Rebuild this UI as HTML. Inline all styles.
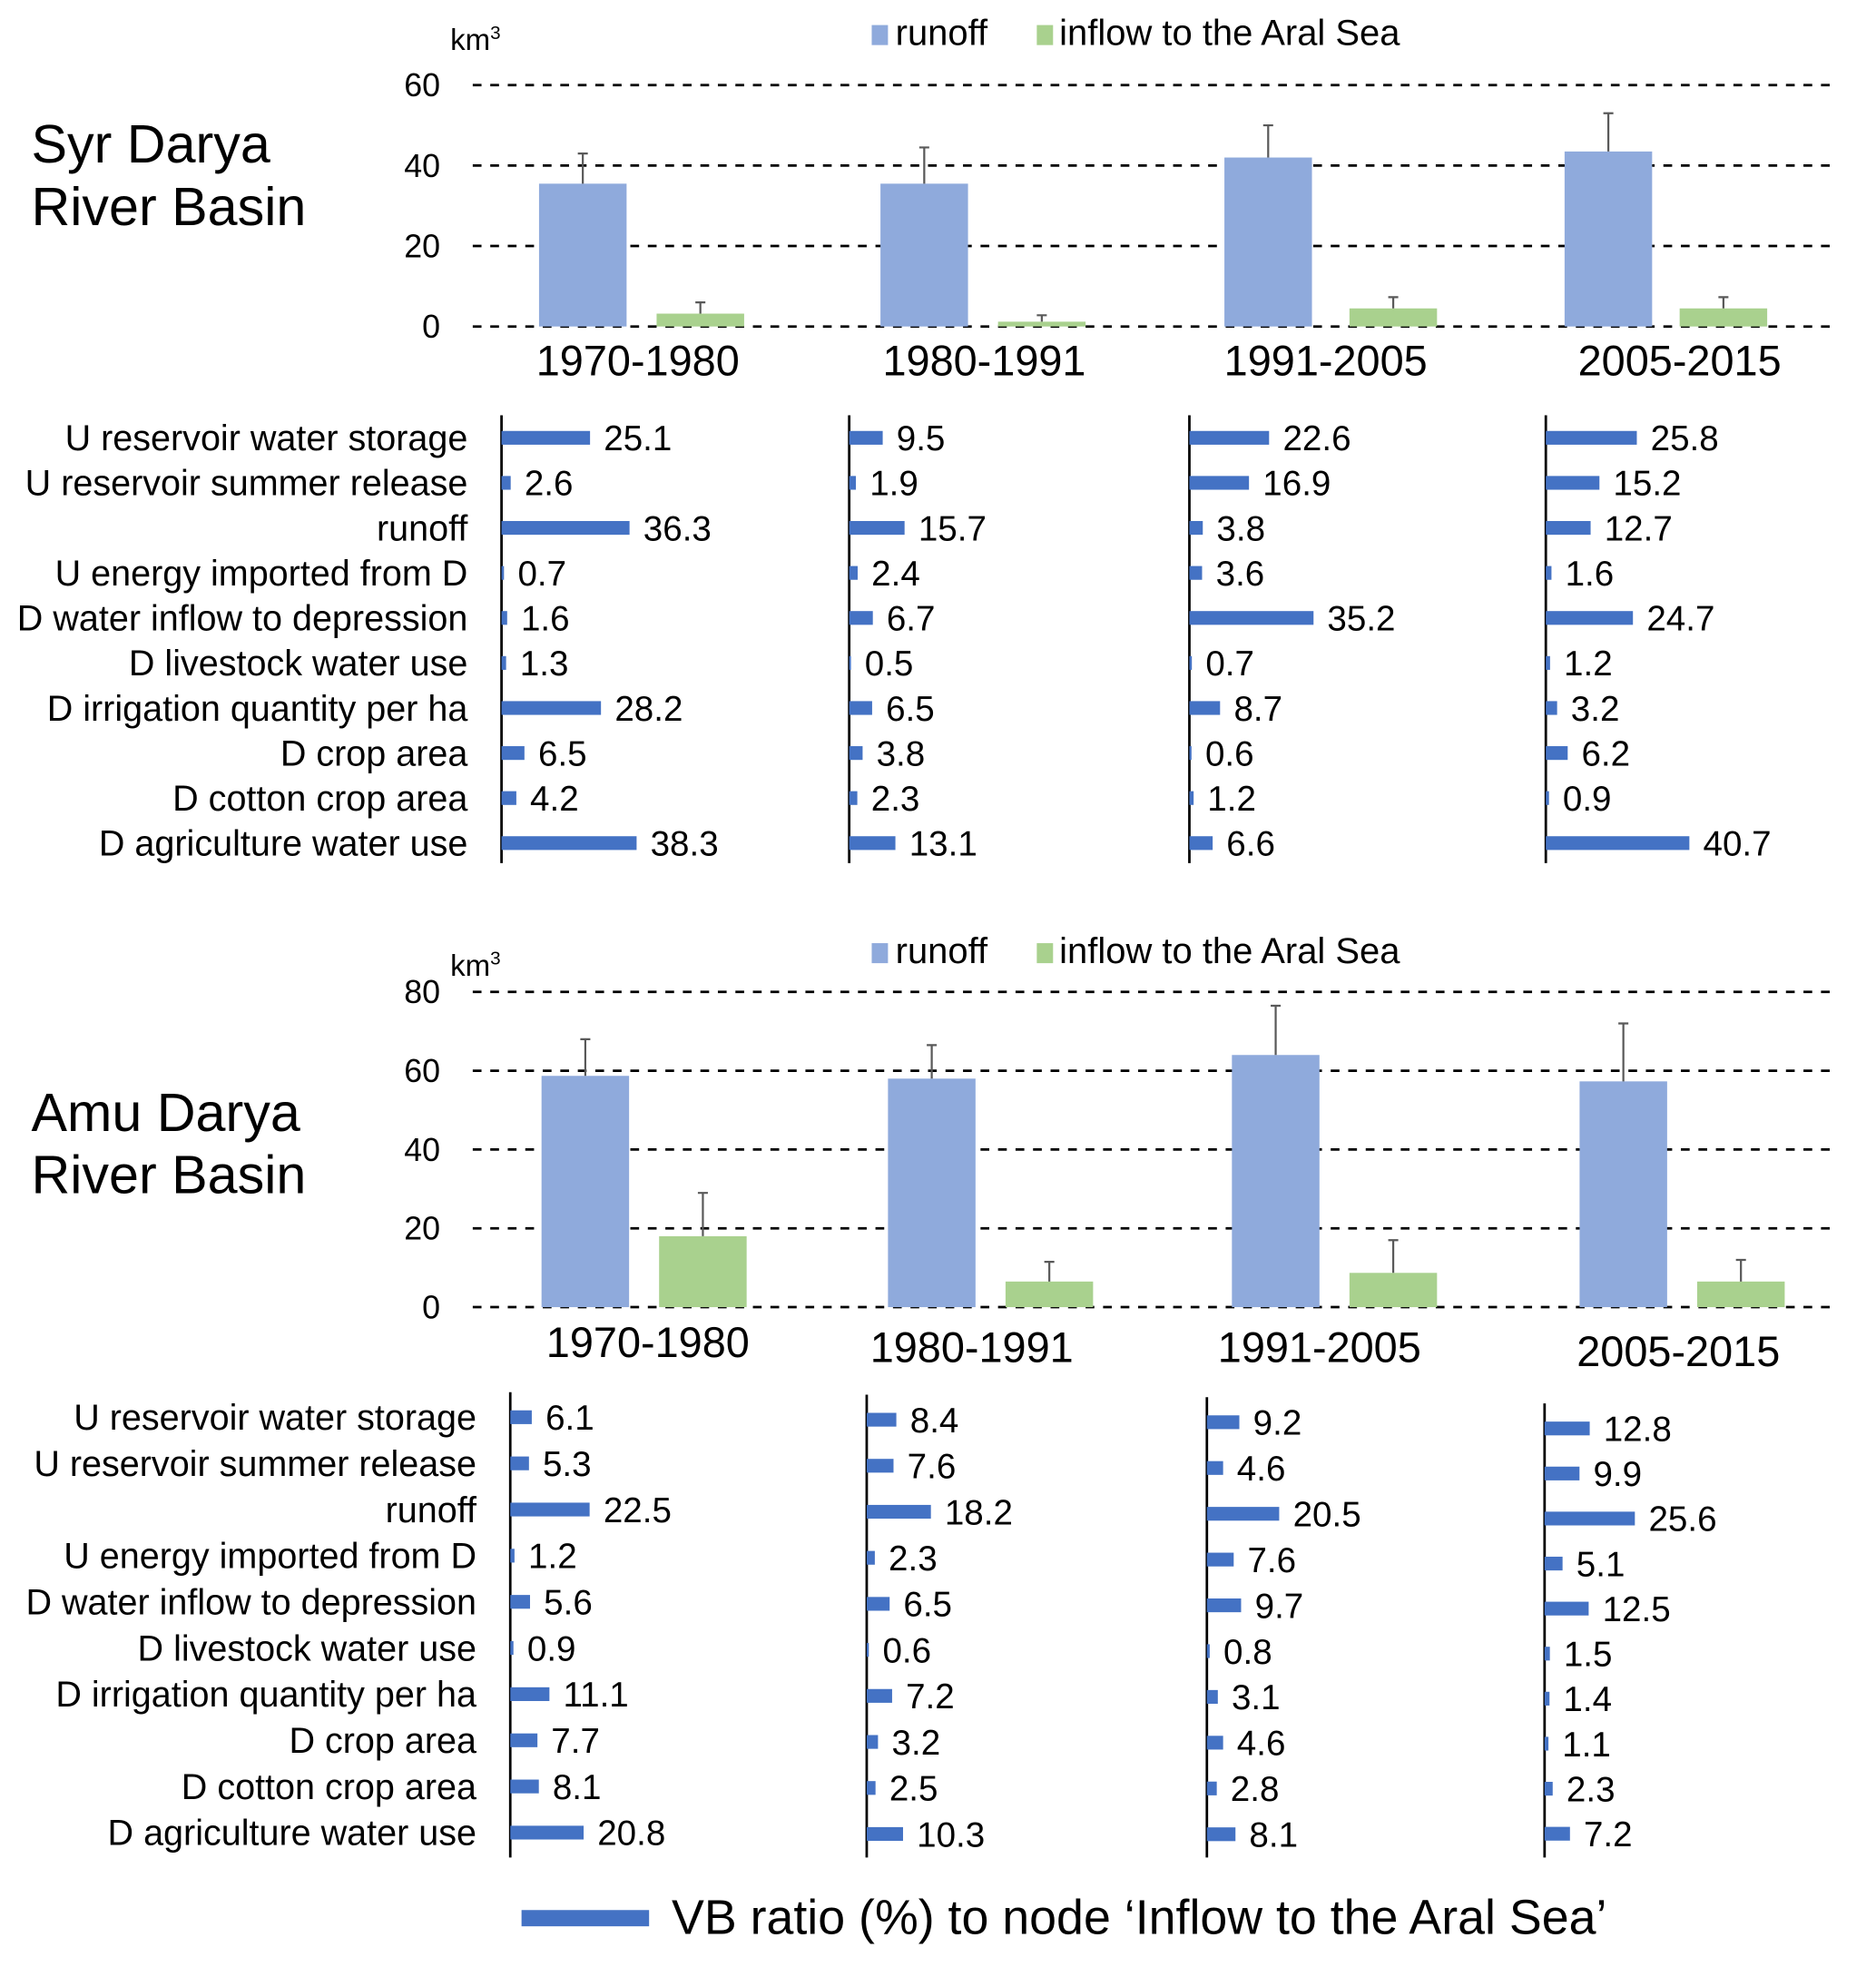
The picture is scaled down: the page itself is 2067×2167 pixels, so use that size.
<!DOCTYPE html>
<html><head><meta charset="utf-8"><style>
html,body{margin:0;padding:0;background:#fff}
svg{display:block;font-family:"Liberation Sans",Arial,sans-serif}
</style></head><body>
<svg id="root" width="2067" height="2167" viewBox="0 0 1500 1572.5" xmlns="http://www.w3.org/2000/svg">
<rect width="1500" height="1572.5" fill="#fff"/>
<g id="g"></g>
</svg>
<script>
const periods = ["1970-1980","1980-1991","1991-2005","2005-2015"];
const categories = ["U reservoir water storage","U reservoir summer release","runoff","U energy imported from D","D water inflow to depression","D livestock water use","D irrigation quantity per ha","D crop area","D cotton crop area","D agriculture water use"];
const syrRunoff = [35.5,35.5,42,43.5];
const syrRunoffErr = [43,44.5,50,53];
const syrInflow = [3.2,1.2,4.5,4.5];
const syrInflowErr = [6,2.8,7.3,7.3];
const syrTicks = [0,20,40,60];
const amuRunoff = [58.7,58,64,57.3];
const amuRunoffErr = [68,66.5,76.5,72];
const amuInflow = [18,6.5,8.7,6.5];
const amuInflowErr = [29,11.5,17,12];
const amuTicks = [0,20,40,60,80];
const syrVB = [
 [25.1,2.6,36.3,0.7,1.6,1.3,28.2,6.5,4.2,38.3],
 [9.5,1.9,15.7,2.4,6.7,0.5,6.5,3.8,2.3,13.1],
 [22.6,16.9,3.8,3.6,35.2,0.7,8.7,0.6,1.2,6.6],
 [25.8,15.2,12.7,1.6,24.7,1.2,3.2,6.2,0.9,40.7]];
const amuVB = [
 [6.1,5.3,22.5,1.2,5.6,0.9,11.1,7.7,8.1,20.8],
 [8.4,7.6,18.2,2.3,6.5,0.6,7.2,3.2,2.5,10.3],
 [9.2,4.6,20.5,7.6,9.7,0.8,3.1,4.6,2.8,8.1],
 [12.8,9.9,25.6,5.1,12.5,1.5,1.4,1.1,2.3,7.2]];

const NS="http://www.w3.org/2000/svg";
const G=document.getElementById('g');
function mk(tag,attrs,parent,text){const e=document.createElementNS(NS,tag);for(const k in attrs)e.setAttribute(k,attrs[k]);if(text!==undefined)e.textContent=text;(parent||G).appendChild(e);return e;}

function columnChart(o){
  const grp=mk('g',{});
  
  
  const max=o.ticks[o.ticks.length-1];
  const y=v=>o.y0-(v/max)*(o.y0-o.yTop);
  o.ticks.forEach(t=>{
    const l=mk('line',{x1:378,x2:1470,y1:y(t),y2:y(t),stroke:'#000','stroke-width':2,'stroke-dasharray':'7 7'},grp);
    
    
    const tx=mk('text',{x:352,y:y(t)+9,'text-anchor':'end','font-size':26,fill:'#000'},grp,String(t));
    
    
  });
  const u=mk('text',{x:360,y:o.kmY,'font-size':24},grp,'km');
  
  
  mk('tspan',{dy:-9,'font-size':15},u,'3');
  const bw=70;
  periods.forEach((p,i)=>{
    const cb=o.blueX[i], cg=o.greenX[i];
    [[cb,o.runoff[i],o.runoffErr[i],'#8faadc','runoff-bar'],[cg,o.inflow[i],o.inflowErr[i],'#a9d18e','inflow-bar']].forEach(d=>{
      const r=mk('rect',{x:d[0]-bw/2,y:y(d[1]),width:bw,height:y(0)-y(d[1]),fill:d[3]},grp);
      
      
      const e=mk('path',{d:`M${d[0]} ${y(d[1])}V${y(d[2])}M${d[0]-4} ${y(d[2])}H${d[0]+4}`,stroke:'#595959','stroke-width':1.6,fill:'none'},grp);
      
      
    });
    const t=mk('text',{x:o.labelX[i],y:o.labelY[i],'text-anchor':'middle','font-size':34},grp,p);
    
    
  });
  const lg=mk('g',{},grp);
  
  
  mk('rect',{x:697,y:o.legY-16,width:13,height:16,fill:'#8faadc'},lg);
  mk('text',{x:716,y:o.legY,'font-size':29},lg,'runoff');
  mk('rect',{x:829,y:o.legY-16,width:13,height:16,fill:'#a9d18e'},lg);
  mk('text',{x:847,y:o.legY,'font-size':29},lg,'inflow to the Aral Sea');
  const t1=mk('text',{x:25,y:o.titleY,'font-size':43},grp,o.title);
  
  
  mk('text',{x:25,y:o.titleY+50,'font-size':43},grp,'River Basin');
}

function vbPanels(o){
  const grp=mk('g',{});
  
  
  const k=2.82;
  categories.forEach((c,j)=>{
    const t=mk('text',{x:o.catX,y:o.rowY0[0]+j*o.sp[0]+10,'text-anchor':'end','font-size':28.7},grp,c);
    
    
  });
  o.data.forEach((vals,i)=>{
    const ax=o.axX[i];
    const l=mk('line',{x1:ax,x2:ax,y1:o.axTop[i],y2:o.axBot,stroke:'#000','stroke-width':2},grp);
    
    
    vals.forEach((v,j)=>{
      const cy=o.rowY0[i]+j*o.sp[i];
      const r=mk('rect',{x:ax,y:cy-5.5,width:v*k,height:11,fill:'#4472c4'},grp);
      
      
      const t=mk('text',{x:ax+v*k+11,y:cy+10,'font-size':28},grp,v.toFixed(1));
      
      
    });
  });
}

columnChart({name:'syr-darya-column-chart',ticks:syrTicks,y0:261,yTop:68,kmY:40,legY:36,titleY:130,title:'Syr Darya',
  runoff:syrRunoff,runoffErr:syrRunoffErr,inflow:syrInflow,inflowErr:syrInflowErr,
  blueX:[466,739,1014,1286],greenX:[560,833,1114,1378],labelX:[510,787,1060,1343],labelY:[300,300,300,300]});
columnChart({name:'amu-darya-column-chart',ticks:amuTicks,y0:1045,yTop:793,kmY:780,legY:770,titleY:904,title:'Amu Darya',
  runoff:amuRunoff,runoffErr:amuRunoffErr,inflow:amuInflow,inflowErr:amuInflowErr,
  blueX:[468,745,1020,1298],greenX:[562,839,1114,1392],labelX:[518,777,1055,1342],labelY:[1085,1089,1089,1092]});
vbPanels({name:'syr-darya-vb-panels',data:syrVB,catX:374,axX:[401,679,951,1236],axTop:[332,332,332,332],axBot:690,
  rowY0:[350,350,350,350],sp:[36,36,36,36]});
vbPanels({name:'amu-darya-vb-panels',data:amuVB,catX:381,axX:[408,693,965,1235],axTop:[1113,1115,1117,1122],axBot:1485,
  rowY0:[1133,1135,1137,1142],sp:[36.9,36.8,36.6,36]});

const bl=mk('g',{});


mk('rect',{x:417,y:1527,width:102,height:13,fill:'#4472c4'},bl);
mk('text',{x:537,y:1546,'font-size':39},bl,'VB ratio (%) to node \u2018Inflow to the Aral Sea\u2019');
</script>
</body></html>
